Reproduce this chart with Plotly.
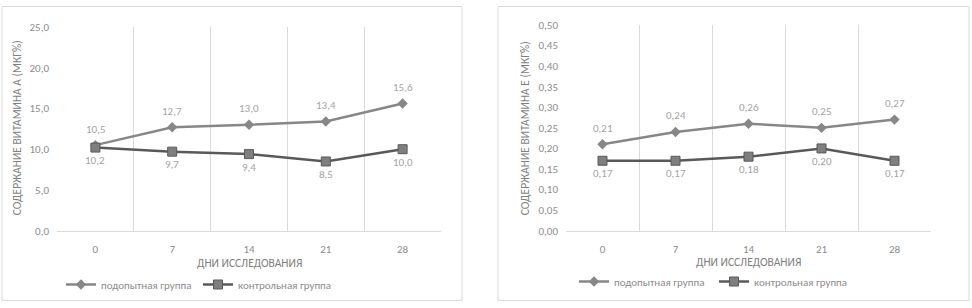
import plotly.graph_objects as go

days = ["0", "7", "14", "21", "28"]
vitA_exp = [10.5, 12.7, 13.0, 13.4, 15.6]
vitA_ctl = [10.2, 9.7, 9.4, 8.5, 10.0]
vitE_exp = [0.21, 0.24, 0.26, 0.25, 0.27]
vitE_ctl = [0.17, 0.17, 0.18, 0.20, 0.17]
name_exp = "подопытная группа"
name_ctl = "контрольная группа"
ytitle_A = "СОДЕРЖАНИЕ ВИТАМИНА А (МКГ%)"
ytitle_E = "СОДЕРЖАНИЕ ВИТАМИНА Е (МКГ%)"
xtitle = "ДНИ ИССЛЕДОВАНИЯ"

W, H = 972, 308
FONT = "Carlito, Lato, sans-serif"
C_EXP = "#878787"
C_CTL = "#595959"
C_TXT = "#8c8c8c"
C_LBL = "#a3a3a3"
C_GRID = "#d9d9d9"

def fmt(v, d):
    return f"{v:.{d}f}".replace(".", ",")

def px(x):
    return x / W

def py(y):
    # compensates for the slight vertical offset/scale seen in the rendered picture
    yf = (y - 5) / 0.963
    yf = min(max(yf, 0.5), H - 0.5)
    return 1 - yf / H

fig = go.Figure()
annotations = []

def add_series(xa, ya, exp, ctl, dec, legend):
    fig.add_trace(go.Scatter(
        x=days, y=exp, name=name_exp, xaxis=xa, yaxis=ya, legend=legend,
        mode="lines+markers", line=dict(color=C_EXP, width=2.5),
        marker=dict(symbol="diamond", size=8, color=C_EXP)))
    fig.add_trace(go.Scatter(
        x=days, y=ctl, name=name_ctl, xaxis=xa, yaxis=ya, legend=legend,
        mode="lines+markers", line=dict(color=C_CTL, width=2.5),
        marker=dict(symbol="square", size=9, color="#7f7f7f",
                    line=dict(color=C_CTL, width=1))))
    # category axes: annotation x given as the category's index
    for i, v in enumerate(exp):
        annotations.append(dict(x=i, y=v, xref=xa, yref=ya, text=fmt(v, dec),
                                showarrow=False, yshift=16, xanchor="center",
                                yanchor="middle",
                                font=dict(color=C_LBL, size=11, family=FONT)))
    for i, v in enumerate(ctl):
        annotations.append(dict(x=i, y=v, xref=xa, yref=ya, text=fmt(v, dec),
                                showarrow=False, yshift=-13, xanchor="center",
                                yanchor="middle",
                                font=dict(color=C_LBL, size=11, family=FONT)))

add_series("x", "y", vitA_exp, vitA_ctl, 1, "legend")
add_series("x2", "y2", vitE_exp, vitE_ctl, 2, "legend2")

xcommon = dict(type="category", tickson="boundaries", showgrid=True, gridcolor=C_GRID,
               gridwidth=1, ticks="", showline=True, linecolor=C_GRID, linewidth=1,
               tickfont=dict(color=C_TXT, size=11, family=FONT), zeroline=False,
               range=[-0.5, 4.5], fixedrange=True, ticklabelstandoff=8)
ycommon = dict(showgrid=False, zeroline=False, showline=False, ticks="",
               tickfont=dict(color=C_TXT, size=11, family=FONT), fixedrange=True,
               ticklabelstandoff=7)

def ann(text, x, y, angle=0):
    return dict(text=text, textangle=angle, x=px(x), y=py(y), xref="paper", yref="paper",
                xanchor="center", yanchor="middle", showarrow=False,
                font=dict(size=11.5, color="#7f7f7f", family=FONT))

annotations += [
    ann(ytitle_A, 17, 128, -90),
    ann(ytitle_E, 525, 128, -90),
    ann(xtitle, 249, 263),
    ann(xtitle, 748, 262),
]

leg_font = dict(size=11, color=C_TXT, family=FONT)

fig.update_layout(
    width=W, height=H, margin=dict(l=0, r=0, t=0, b=0),
    paper_bgcolor="white", plot_bgcolor="white", separators=", ",
    font=dict(family=FONT, color=C_TXT),
    xaxis=dict(domain=[px(57), px(441)], anchor="y", **xcommon),
    yaxis=dict(domain=[py(231), py(26)], anchor="x", range=[0, 25], dtick=5,
               tickformat=".1f", **ycommon),
    xaxis2=dict(domain=[px(566), px(931)], anchor="y2", **xcommon),
    yaxis2=dict(domain=[py(231), py(24)], anchor="x2", range=[0, 0.5], dtick=0.05,
                tickformat=".2f", **ycommon),
    legend=dict(orientation="h", x=px(61), y=py(285), xanchor="left", yanchor="middle",
                font=leg_font, bgcolor="rgba(0,0,0,0)", itemwidth=30, tracegroupgap=0,
                entrywidth=92, entrywidthmode="pixels"),
    legend2=dict(orientation="h", x=px(574), y=py(282), xanchor="left", yanchor="middle",
                 font=leg_font, bgcolor="rgba(0,0,0,0)", itemwidth=30, tracegroupgap=0,
                 entrywidth=95, entrywidthmode="pixels"),
    shapes=[
        dict(type="rect", xref="paper", yref="paper", x0=px(2), x1=px(462),
             y0=py(304), y1=py(2), line=dict(color=C_GRID, width=1)),
        dict(type="rect", xref="paper", yref="paper", x0=px(498), x1=px(969),
             y0=py(304), y1=py(2), line=dict(color=C_GRID, width=1)),
    ],
    annotations=annotations,
)

post = ("document.documentElement.style.margin='0';"
        "document.documentElement.style.overflow='hidden';"
        "document.body.style.margin='0';document.body.style.overflow='hidden';"
        "var d=document.getElementById('{plot_id}');"
        "d.style.position='fixed';d.style.left='0px';d.style.top='0px';")

fig.write_html("out.html", config={"displayModeBar": False}, post_script=post)
